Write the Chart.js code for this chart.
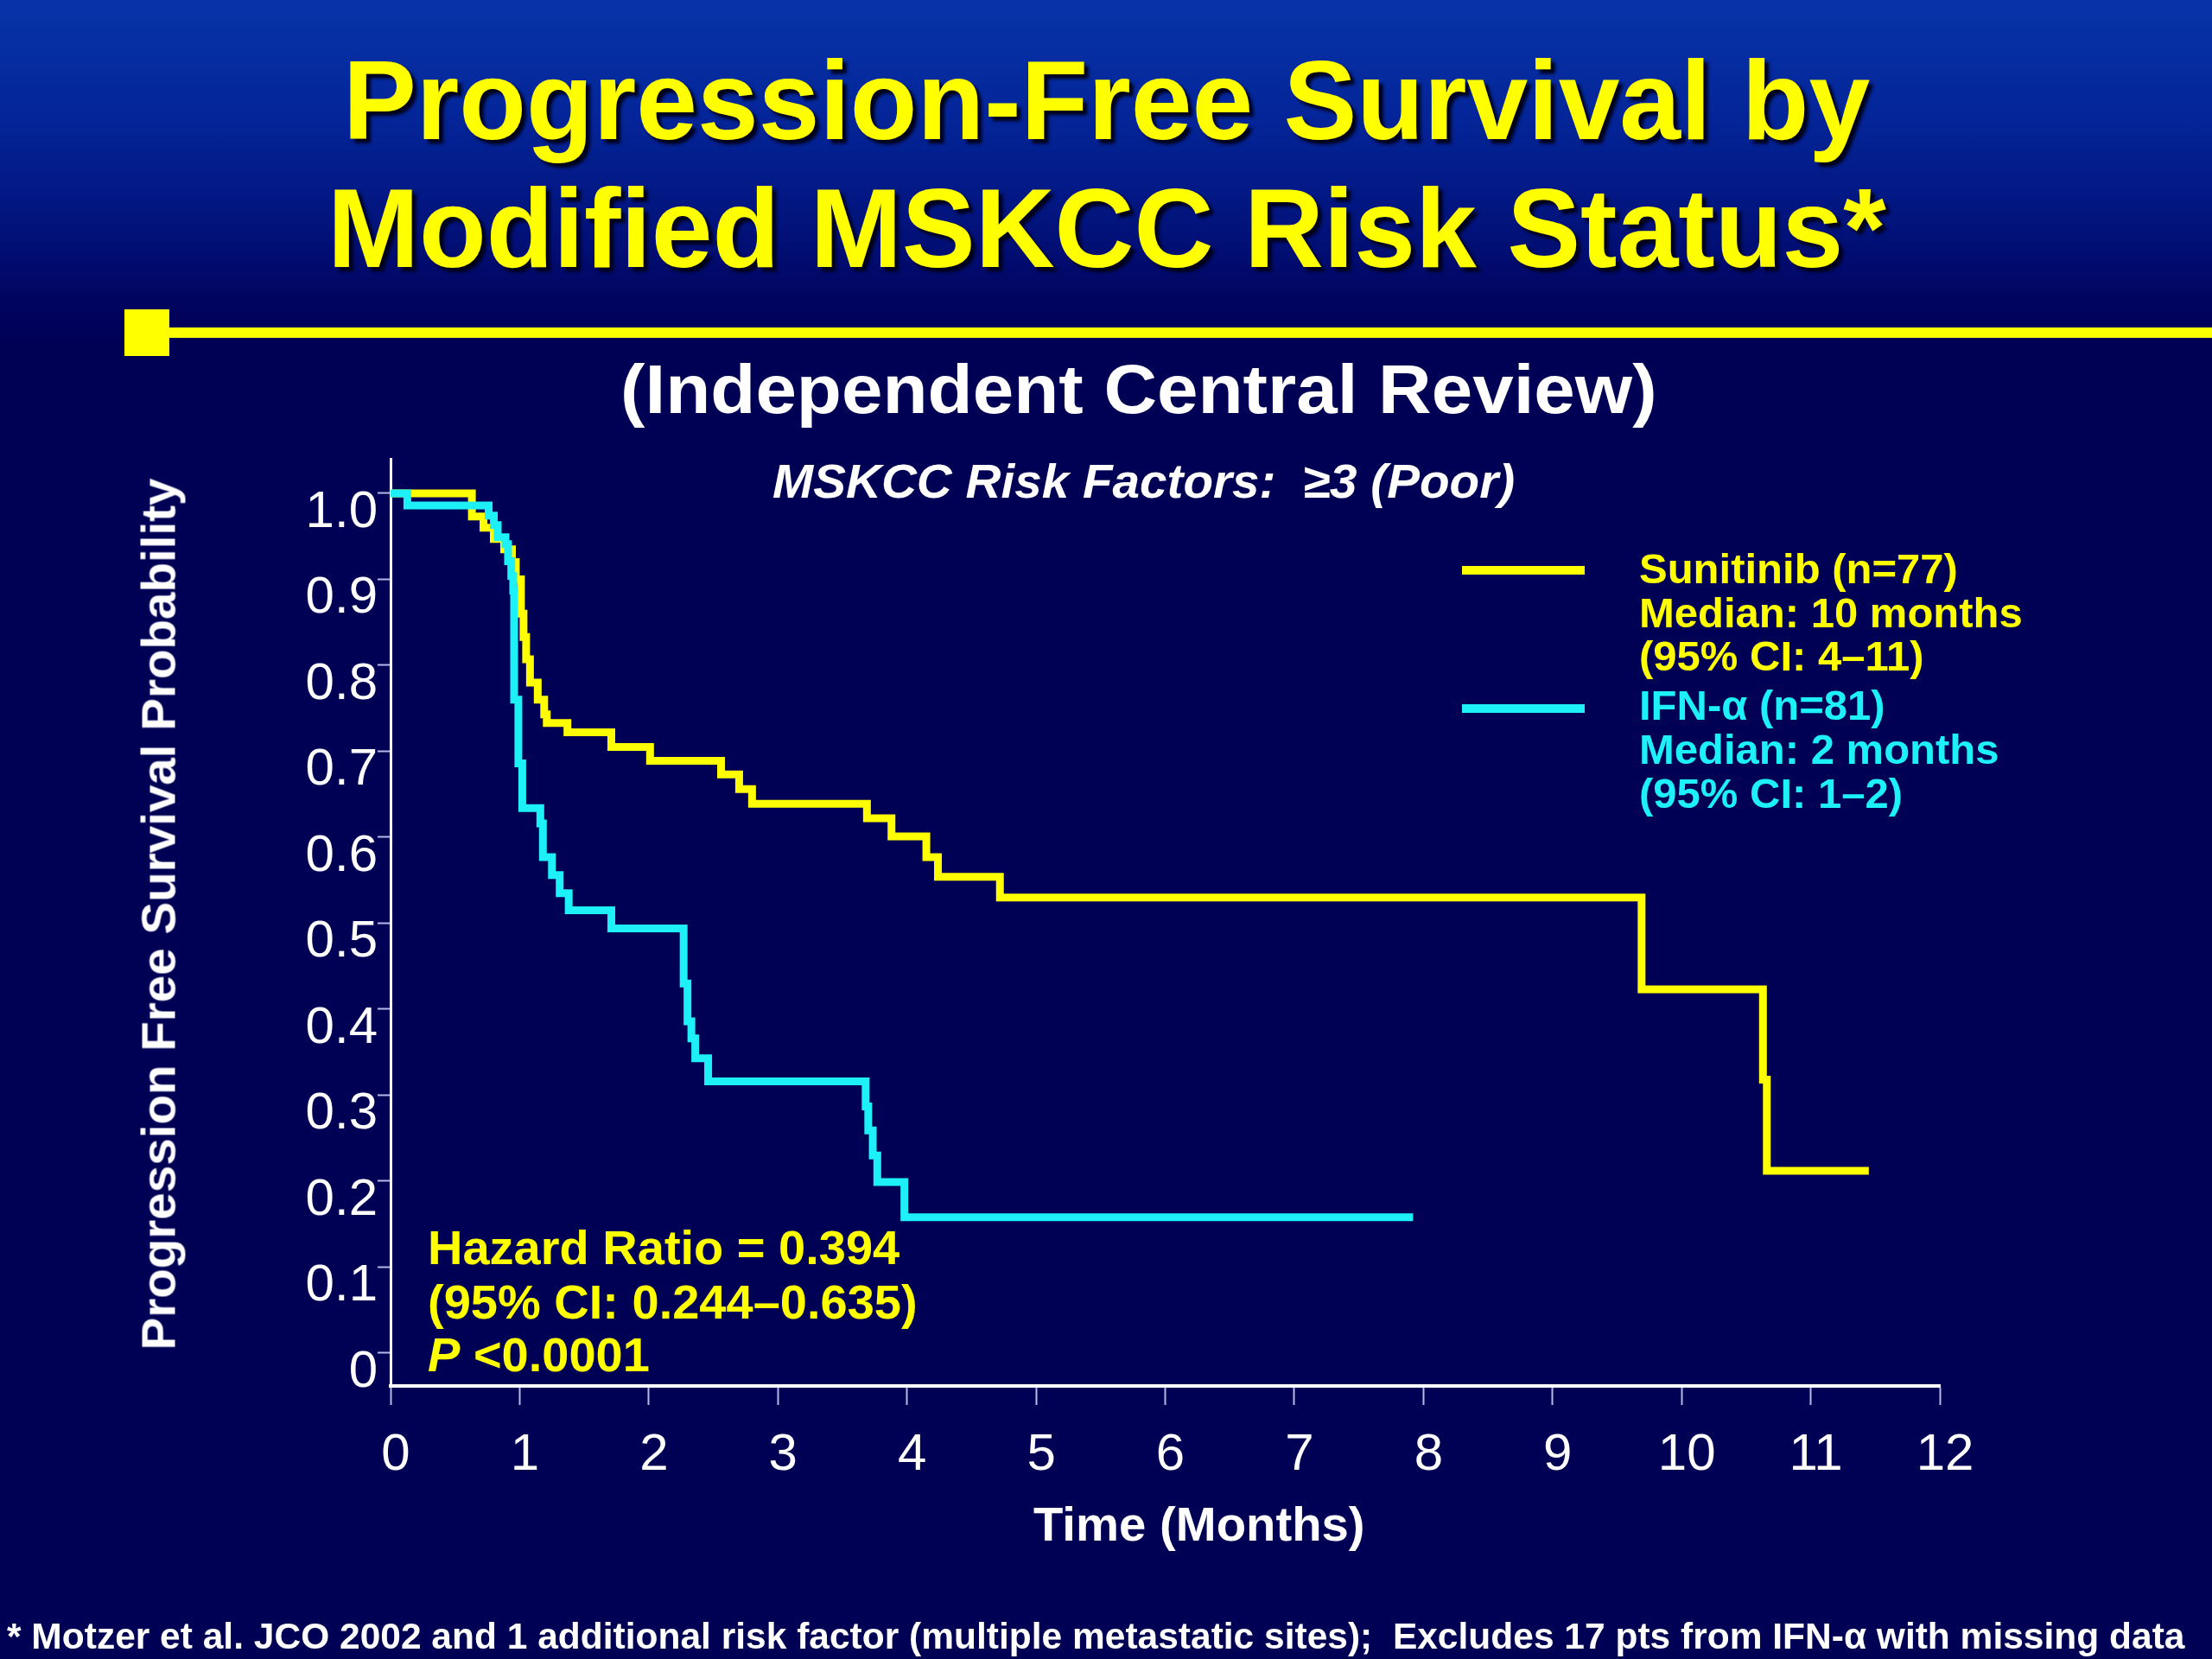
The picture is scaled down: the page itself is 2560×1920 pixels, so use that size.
<!DOCTYPE html>
<html>
<head>
<meta charset="utf-8">
<script src="https://cdn.jsdelivr.net/npm/chart.js@4.4.0/dist/chart.umd.min.js"></script>
<style>
  html, body { margin: 0; padding: 0; }
  body {
    width: 2560px; height: 1920px; position: relative; overflow: hidden;
    background: linear-gradient(to bottom, #0634a8 0px, #04269a 130px, #02137c 260px, #00025c 360px, #000054 400px, #000054 1920px);
    font-family: "Liberation Sans", Arial, sans-serif;
  }
  #chart { position: absolute; left: 0; top: 0; }
  .t { position: absolute; white-space: nowrap; font-weight: bold; line-height: 1; transform-origin: 0 50%; }
  .title { color: #ffff00; font-size: 130px; text-shadow: 5px 5px 4px #000018; }
  .white { color: #ffffff; }
  .yel { color: #ffff00; }
  .cya { color: #1ef0f8; }
  .bar { position: absolute; background: #ffff00; }
</style>
</head>
<body>
<canvas id="chart" width="2560" height="1920"></canvas>

<div class="t title" data-cx="1280" data-cy="116" data-w="1767">Progression-Free Survival by</div>
<div class="t title" data-cx="1281" data-cy="264" data-w="1804">Modified MSKCC Risk Status*</div>
<div class="bar" style="left:144px;top:358px;width:52px;height:54px;"></div>
<div class="bar" style="left:196px;top:379px;width:2364px;height:12px;"></div>
<div class="t white" style="font-size:80px;" data-cx="1318" data-cy="451" data-w="1200">(Independent Central Review)</div>
<div class="t white" style="font-size:56px;font-style:italic;" data-cx="1323" data-cy="557" data-w="859">MSKCC Risk Factors:&nbsp; ≥3 (Poor)</div>

<div class="t white" id="ytitle" style="font-size:56px;" data-rot="1" data-cx="183" data-cy="1058" data-w="1009">Progression Free Survival Probability</div>
<div class="t white" style="font-size:56px;" data-cx="1388" data-cy="1764" data-w="384">Time (Months)</div>

<!-- legend -->
<div class="bar" style="left:1692px;top:655px;width:142px;height:10px;"></div>
<div class="bar" style="left:1692px;top:815px;width:142px;height:10px;background:#1ef0f8;"></div>
<div class="t yel" style="font-size:49px;" data-x="1897" data-cy="658">Sunitinib (n=77)</div>
<div class="t yel" style="font-size:49px;" data-x="1897" data-cy="709">Median: 10 months</div>
<div class="t yel" style="font-size:49px;" data-x="1897" data-cy="759">(95% CI: 4–11)</div>
<div class="t cya" style="font-size:49px;" data-x="1897" data-cy="816">IFN-α (n=81)</div>
<div class="t cya" style="font-size:49px;" data-x="1897" data-cy="867">Median: 2 months</div>
<div class="t cya" style="font-size:49px;" data-x="1897" data-cy="918">(95% CI: 1–2)</div>

<!-- hazard ratio box -->
<div class="t yel" style="font-size:56px;" data-x="495" data-cy="1444">Hazard Ratio = 0.394</div>
<div class="t yel" style="font-size:56px;" data-x="495" data-cy="1507">(95% CI: 0.244–0.635)</div>
<div class="t yel" style="font-size:56px;" data-x="495" data-cy="1568"><i>P</i> &lt;0.0001</div>

<div class="t white" style="font-size:42px;" data-cx="1268" data-cy="1894" data-w="2520">* Motzer et al. JCO 2002 and 1 additional risk factor (multiple metastatic sites);&nbsp; Excludes 17 pts from IFN-α with missing data</div>

<script>
// Kaplan-Meier steps (months, survival probability)
const sunitinibTime = [0, 0.63, 0.72, 0.80, 0.88, 0.94, 0.97, 1.01, 1.03, 1.05, 1.08, 1.14, 1.19, 1.21, 1.37, 1.71, 2.01, 2.56, 2.70, 2.80, 3.69, 3.88, 4.15, 4.24, 4.72, 9.69, 10.63, 10.66, 11.45];
const sunitinibSurv = [1.0, 0.973, 0.96, 0.947, 0.935, 0.92, 0.90, 0.86, 0.833, 0.807, 0.78, 0.76, 0.743, 0.733, 0.722, 0.705, 0.689, 0.673, 0.656, 0.639, 0.622, 0.601, 0.577, 0.554, 0.530, 0.423, 0.318, 0.212, 0.212];

const ifnTime = [0, 0.13, 0.76, 0.80, 0.83, 0.89, 0.91, 0.935, 0.95, 0.957, 0.99, 1.02, 1.16, 1.18, 1.25, 1.31, 1.38, 1.71, 2.27, 2.30, 2.33, 2.36, 2.46, 3.68, 3.70, 3.735, 3.77, 3.98, 7.92];
const ifnSurv = [1.0, 0.986, 0.974, 0.963, 0.949, 0.941, 0.921, 0.904, 0.887, 0.76, 0.686, 0.634, 0.616, 0.577, 0.556, 0.535, 0.515, 0.494, 0.43, 0.386, 0.366, 0.343, 0.316, 0.287, 0.259, 0.230, 0.199, 0.158, 0.158];

const xTickLabels = ["0", "1", "2", "3", "4", "5", "6", "7", "8", "9", "10", "11", "12"];
const yTickLabels = ["0", "0.1", "0.2", "0.3", "0.4", "0.5", "0.6", "0.7", "0.8", "0.9", "1.0"];

const toPoints = (xs, ys) => xs.map((x, i) => ({ x: x, y: ys[i] }));

const tickFont = { family: "Liberation Sans", size: 60 };

new Chart(document.getElementById("chart"), {
  type: "line",
  data: {
    datasets: [
      {
        label: "Sunitinib (n=77)",
        data: toPoints(sunitinibTime, sunitinibSurv),
        borderColor: "#ffff00",
        borderWidth: 9,
        stepped: "before",
        pointRadius: 0,
        fill: false,
        order: 1,
      },
      {
        label: "IFN-α (n=81)",
        data: toPoints(ifnTime, ifnSurv),
        borderColor: "#1ef0f8",
        borderWidth: 9,
        stepped: "before",
        pointRadius: 0,
        fill: false,
        order: 0,
      },
    ],
  },
  options: {
    responsive: false,
    animation: false,
    devicePixelRatio: 1,
    layout: { padding: { top: 531, right: 315, left: 0, bottom: 0 } },
    plugins: { legend: { display: false }, tooltip: { enabled: false }, title: { display: false } },
    scales: {
      x: {
        type: "linear",
        min: 0,
        max: 12,
        afterBuildTicks: (s) => { s.ticks = xTickLabels.map((t, i) => ({ value: i })); },
        afterFit: (s) => { s.height = 316; },
        ticks: {
          color: "#ffffff",
          font: tickFont,
          padding: 22,
          labelOffset: 6,
          maxRotation: 0,
          callback: (v, i) => xTickLabels[i],
        },
        grid: { drawOnChartArea: false, drawTicks: true, tickLength: 22, tickColor: "#b8b8e8", tickWidth: 2 },
        border: { display: true, color: "#ffffff", width: 4 },
      },
      y: {
        type: "linear",
        min: -0.0382,
        max: 1.0402,
        afterBuildTicks: (s) => { s.ticks = yTickLabels.map((t, i) => ({ value: i / 10 })); },
        afterFit: (s) => { s.width = 452; },
        ticks: {
          color: "#ffffff",
          font: tickFont,
          padding: 0,
          labelOffset: 22,
          callback: (v, i) => yTickLabels[i],
        },
        grid: { drawOnChartArea: false, drawTicks: true, tickLength: 15, tickColor: "#b8b8e8", tickWidth: 2 },
        border: { display: true, color: "#ffffff", width: 3 },
      },
    },
  },
});

// place the slide texts: fit widths, centre on the cap line
document.querySelectorAll(".t").forEach((el) => {
  const fs = parseFloat(getComputedStyle(el).fontSize);
  const w = el.scrollWidth;
  let s = 1;
  if (el.dataset.w) s = parseFloat(el.dataset.w) / w;
  const cy = parseFloat(el.dataset.cy);
  el.style.top = (cy - fs / 2) + "px";
  if (el.dataset.rot) {
    el.style.transformOrigin = "50% 50%";
    el.style.left = (parseFloat(el.dataset.cx) - w / 2) + "px";
    el.style.transform = "rotate(-90deg) scaleX(" + s + ")";
  } else if (el.dataset.cx) {
    el.style.left = (parseFloat(el.dataset.cx) - (w * s) / 2) + "px";
    el.style.transform = "scaleX(" + s + ")";
  } else {
    el.style.left = el.dataset.x + "px";
  }
});
</script>
</body>
</html>
